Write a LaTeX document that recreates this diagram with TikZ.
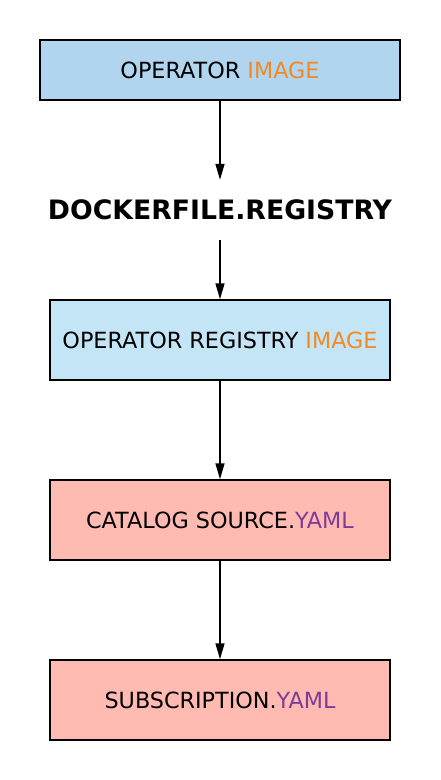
\documentclass[tikz,border=0pt]{standalone}
\usepackage{fontspec}
\setmainfont{DejaVu Sans}
\usetikzlibrary{arrows.meta}
\definecolor{boxblueA}{HTML}{B1D5EF}
\definecolor{boxblueB}{HTML}{C4E5F6}
\definecolor{boxpink}{HTML}{FFBBB2}
\definecolor{orangetxt}{HTML}{F28A24}
\definecolor{purpletxt}{HTML}{7D3C98}
\begin{document}
\begin{tikzpicture}[x=1pt,y=-1pt,
  stepbox/.style={draw=black,line width=1.5pt,minimum height=60pt,inner sep=0pt,font=\fontsize{22.3}{26}\selectfont},
  conn/.style={line width=1.5pt,-{Triangle[length=16pt,width=9pt]}}]
\useasboundingbox (0,0) rectangle (440,780);
\node[stepbox,fill=boxblueA,minimum width=360pt] (op) at (220,70) {OPERATOR \textcolor{orangetxt}{IMAGE}};
\node[inner sep=0pt,minimum height=60pt,font=\bfseries\fontsize{26.7}{30}\selectfont] (dock) at (220,210) {DOCKERFILE.REGISTRY};
\node[stepbox,fill=boxblueB,minimum width=340pt,minimum height=80pt] (reg) at (220,340) {OPERATOR REGISTRY \textcolor{orangetxt}{IMAGE}};
\node[stepbox,fill=boxpink,minimum width=340pt,minimum height=80pt] (cat) at (220,520) {CATALOG SOURCE.\textcolor{purpletxt}{YAML}};
\node[stepbox,fill=boxpink,minimum width=340pt,minimum height=80pt] (sub) at (220,700) {SUBSCRIPTION.\textcolor{purpletxt}{YAML}};
\draw[conn] (op) -- (dock);
\draw[conn] (dock) -- (reg);
\draw[conn] (reg) -- (cat);
\draw[conn] (cat) -- (sub);
\end{tikzpicture}
\end{document}
